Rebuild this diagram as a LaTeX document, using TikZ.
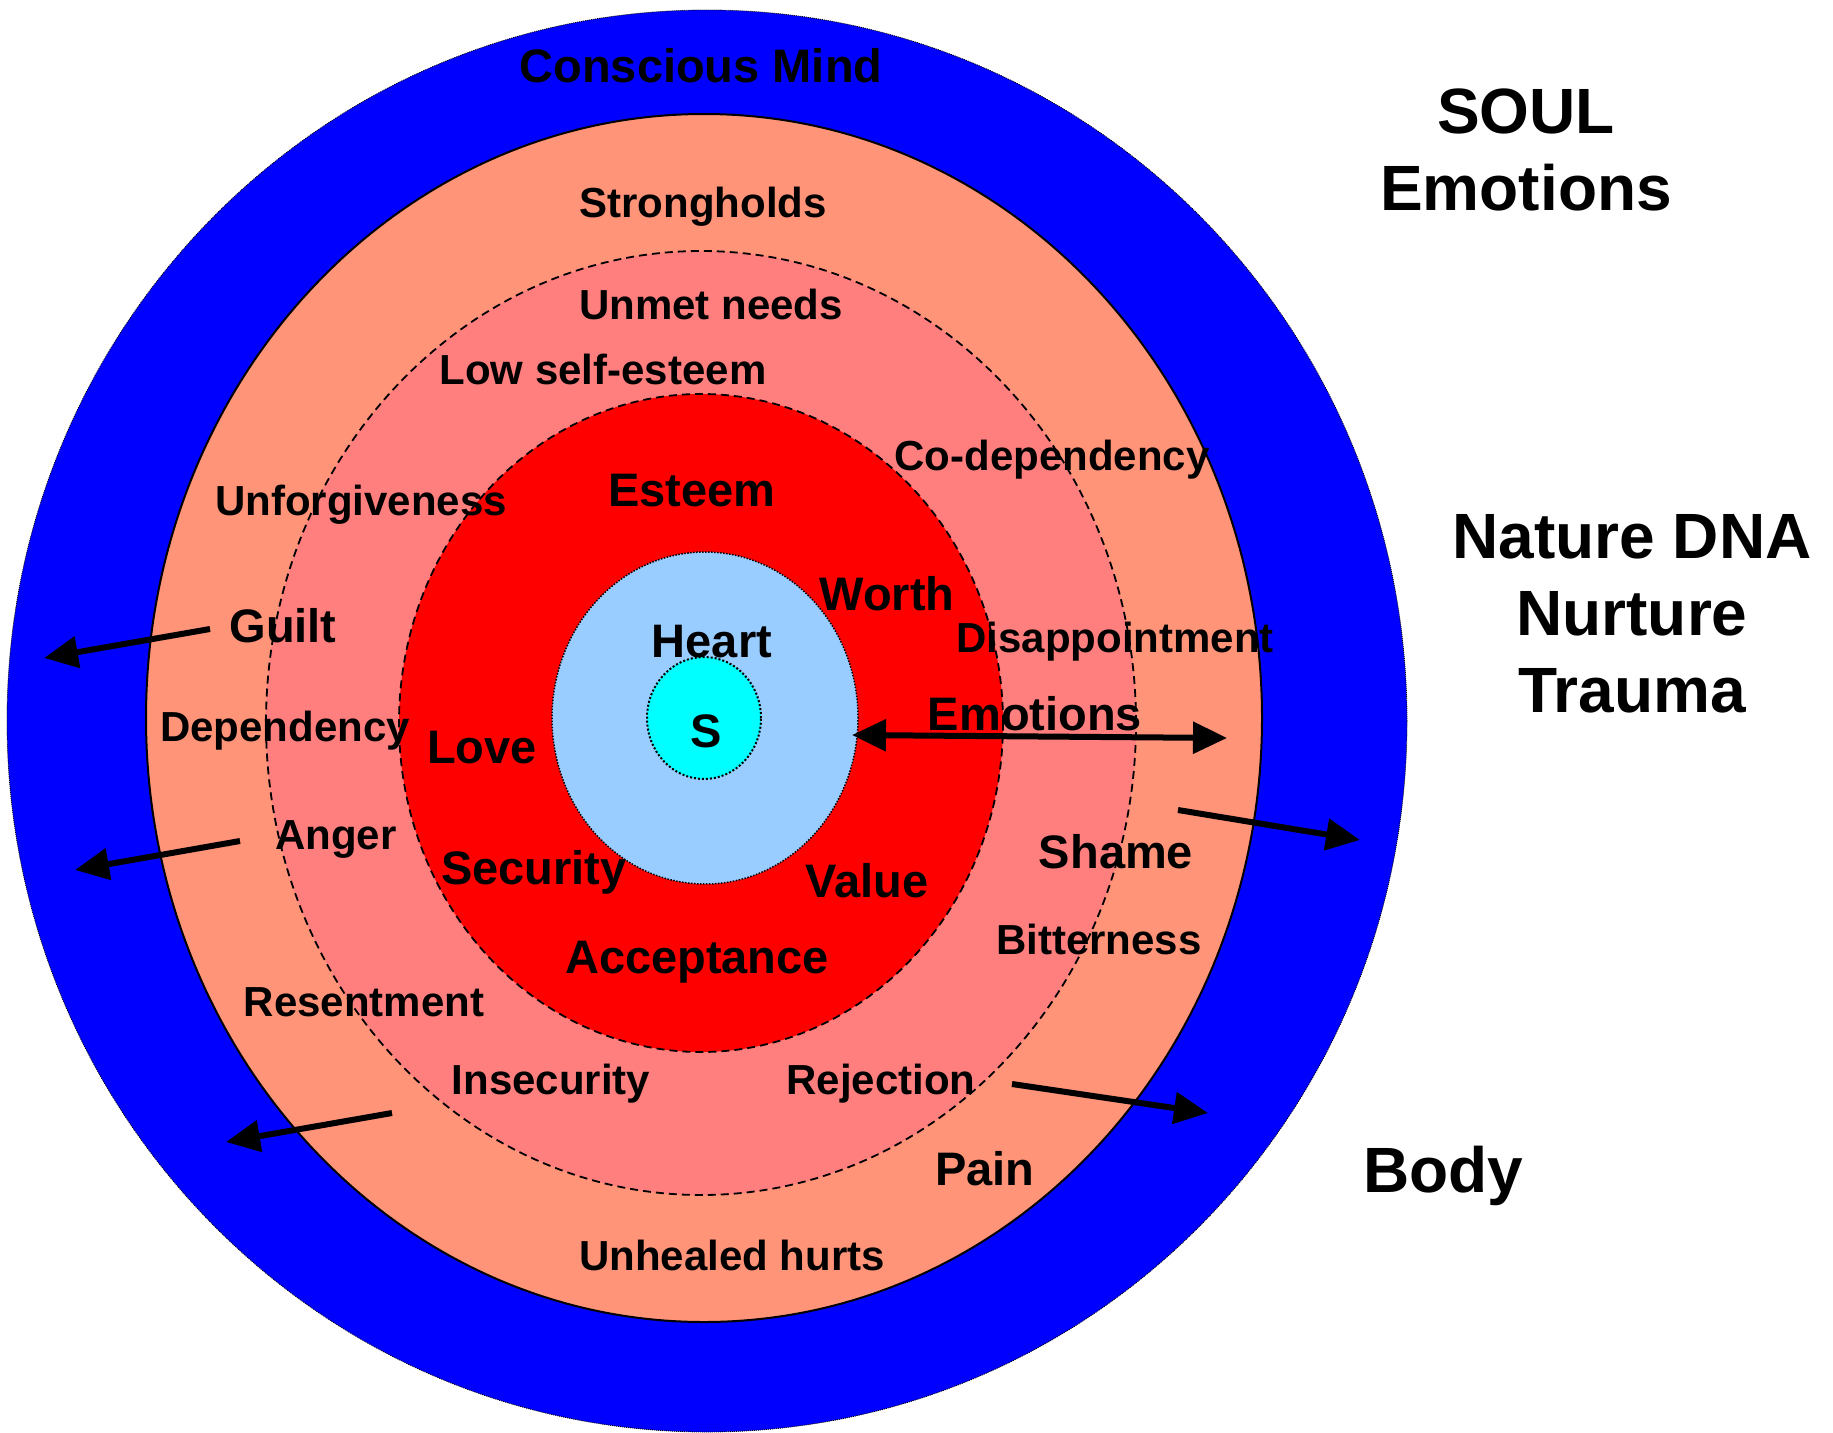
\documentclass[tikz,border=0pt]{standalone}
\usepackage{fontspec}
\setmainfont{Liberation Sans}
\usetikzlibrary{arrows.meta}
\definecolor{ringblue}{HTML}{0000FF}
\definecolor{salmonring}{HTML}{FF9479}
\definecolor{pinkring}{HTML}{FF7F7F}
\definecolor{redcore}{HTML}{FF0000}
\definecolor{heartblue}{HTML}{99CCFF}
\definecolor{spiritcyan}{HTML}{00FFFF}
\begin{document}
\begin{tikzpicture}[x=1pt,y=-1pt,
  lbl/.style={font=\bfseries\fontsize{42}{50}\selectfont, inner sep=0pt, anchor=base},
  big/.style={font=\bfseries\fontsize{47}{56}\selectfont, inner sep=0pt, anchor=base},
  head/.style={font=\bfseries\fontsize{64}{77}\selectfont, inner sep=0pt, anchor=base},
  arr/.style={line width=6pt, -{Triangle[length=34pt,width=31pt]}},
  darr/.style={line width=6pt, {Triangle[length=34pt,width=31pt]}-{Triangle[length=34pt,width=31pt]}}]
\useasboundingbox (0,0) rectangle (1833,1432);
\fill[white] (0,0) rectangle (1833,1432);
% rings
\path[fill=ringblue, draw=black, line width=0.8pt, dash pattern=on 1pt off 1pt] (707,721) ellipse [x radius=700pt, y radius=711pt];
\path[fill=salmonring, draw=black, line width=2pt] (704,718) ellipse [x radius=558pt, y radius=604pt];
\path[fill=pinkring, draw=black, line width=1.8pt, dash pattern=on 8pt off 5pt] (701,723) ellipse [x radius=435pt, y radius=472pt];
\path[fill=redcore, draw=black, line width=1.8pt, dash pattern=on 8pt off 5pt] (701,723) ellipse [x radius=302pt, y radius=329pt];
\path[fill=heartblue, draw=black, line width=1.5pt, dash pattern=on 1.5pt off 1.5pt] (705,718) ellipse [x radius=153pt, y radius=166pt];
\path[fill=spiritcyan, draw=black, line width=2pt, dash pattern=on 2pt off 2pt] (704,718) ellipse [x radius=57pt, y radius=61pt];
% labels
\node[big] (conscious) at (701,82) {Conscious Mind};
\node[lbl] (strongholds) at (703,217) {Strongholds};
\node[lbl] (unmet) at (711,319) {Unmet needs};
\node[lbl] (lowself) at (603,384) {Low self-esteem};
\node[lbl] (codep) at (1052,470) {Co-dependency};
\node[lbl] (unforg) at (361,515) {Unforgiveness};
\node[big] (esteem) at (692,506) {Esteem};
\node[big] (worth) at (887,610) {Worth};
\node[big] (heart) at (712,657) {Heart};
\node[lbl] (disapp) at (1115,652) {Disappointment};
\node[big] (guilt) at (283,642) {Guilt};
\node[lbl] (dependency) at (285,741) {Dependency};
\node[big] (love) at (482,763) {Love};
\node[big] (emotionsin) at (1035,730) {Emotions};
\node[big] (s) at (706,747) {S};
\node[lbl] (anger) at (336,849) {Anger};
\node[big] (shame) at (1116,868) {Shame};
\node[big] (security) at (534,884) {Security};
\node[big] (value) at (867,897) {Value};
\node[lbl] (bitterness) at (1099,954) {Bitterness};
\node[big] (acceptance) at (697,973) {Acceptance};
\node[lbl] (resentment) at (364,1016) {Resentment};
\node[lbl] (insecurity) at (551,1094) {Insecurity};
\node[lbl] (rejection) at (881,1094) {Rejection};
\node[big] (pain) at (985,1185) {Pain};
\node[lbl] (unhealed) at (732,1270) {Unhealed hurts};
% right side headings
\node[head] (soul) at (1526,133) {SOUL};
\node[head] (emotionsout) at (1526,210) {Emotions};
\node[head] (nature) at (1632,558) {Nature DNA};
\node[head] (nurture) at (1632,635) {Nurture};
\node[head] (trauma) at (1632,712) {Trauma};
\node[head] (body) at (1443,1192) {Body};
% arrows
\coordinate (g1) at (210,629); \coordinate (g2) at (44,658);
\coordinate (a1) at (240,841); \coordinate (a2) at (75,870);
\coordinate (r1) at (392,1113); \coordinate (r2) at (226,1142);
\coordinate (e1) at (852,735); \coordinate (e2) at (1227,738);
\coordinate (sh1) at (1178,810); \coordinate (sh2) at (1360,840);
\coordinate (rj1) at (1012,1084); \coordinate (rj2) at (1208,1113);
\draw[arr] (g1) -- (g2);
\draw[arr] (a1) -- (a2);
\draw[arr] (r1) -- (r2);
\draw[darr] (e1) -- (e2);
\draw[arr] (sh1) -- (sh2);
\draw[arr] (rj1) -- (rj2);
\end{tikzpicture}
\end{document}
